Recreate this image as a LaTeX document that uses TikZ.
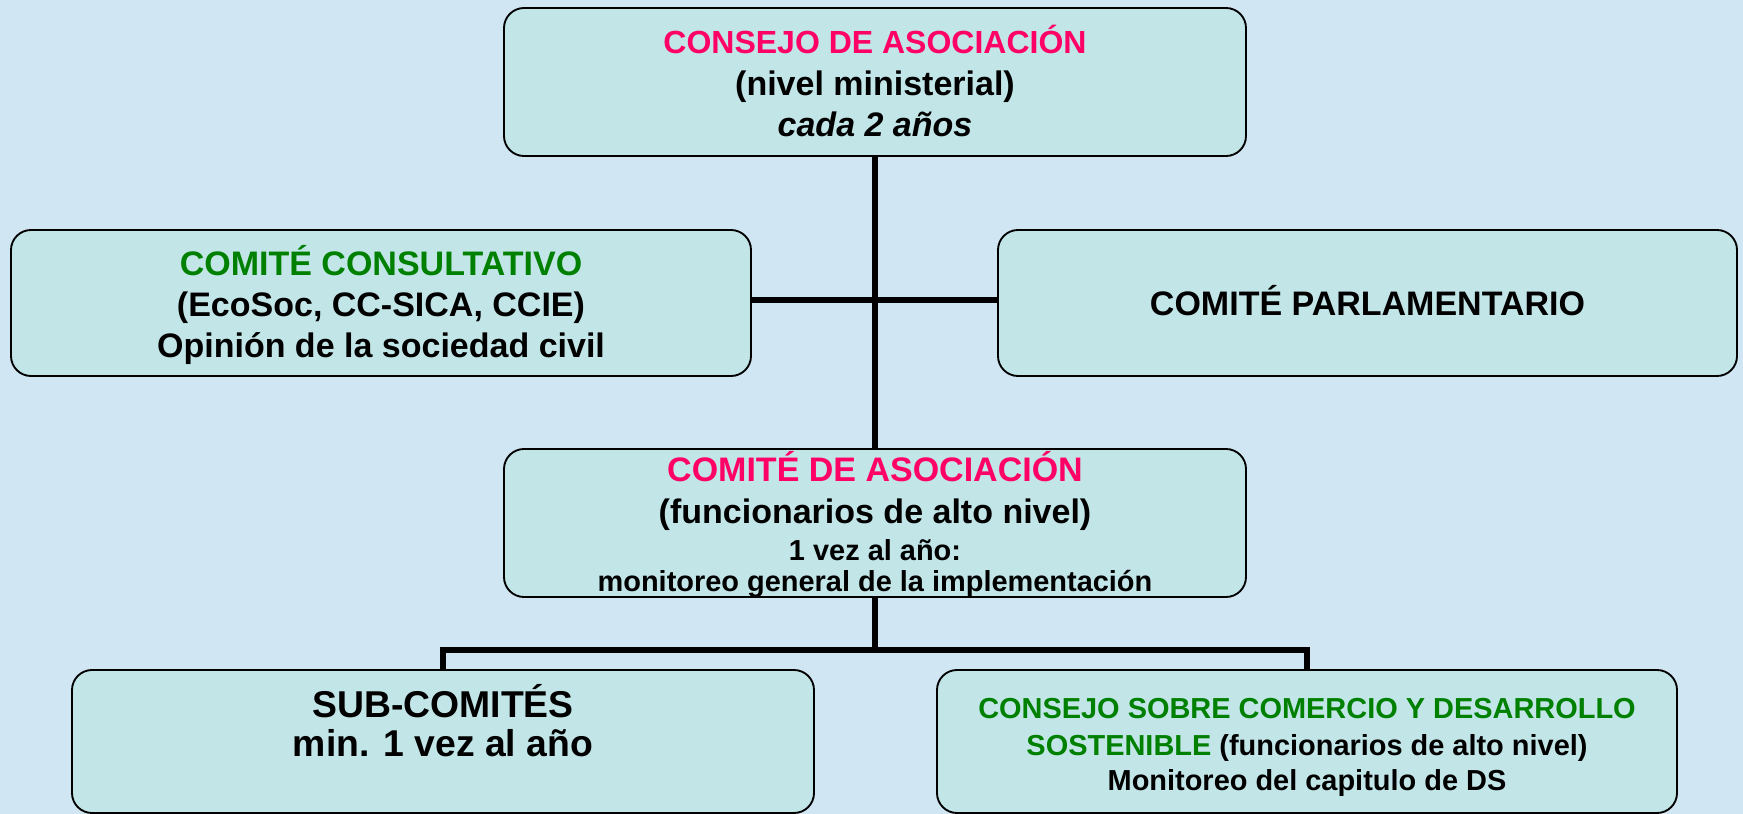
\documentclass[tikz,border=0pt]{standalone}
\usepackage{fontspec}
\setmainfont{Liberation Sans}
\definecolor{bgblue}{RGB}{208,230,243}
\definecolor{boxfill}{RGB}{194,229,232}
\definecolor{pinkt}{RGB}{255,0,102}
\definecolor{greent}{RGB}{0,128,0}
\begin{document}
\begin{tikzpicture}[x=0.75pt,y=-0.75pt,
  box/.style={draw=black, line width=1.4pt, fill=boxfill, rounded corners=15pt, inner sep=0pt},
  conn/.style={line width=4.5pt, draw=black},
  txt/.style={anchor=base, inner sep=0pt},
  fmain/.style={font=\bfseries\fontsize{25.5pt}{30pt}\selectfont},
  ftop/.style={font=\bfseries\fontsize{24pt}{28pt}\selectfont},
  fsmall/.style={font=\bfseries\fontsize{21.7pt}{26pt}\selectfont},
  fbig/.style={font=\bfseries\fontsize{28pt}{33pt}\selectfont}]
\fill[bgblue] (0,0) rectangle (1743,814);
\useasboundingbox (0,0) rectangle (1743,814);

% boxes
\node[box, minimum width=556.5pt, minimum height=111pt] (top) at (875,82) {};
\node[box, minimum width=555pt, minimum height=109.5pt] (left) at (381,303) {};
\node[box, minimum width=554.25pt, minimum height=109.5pt] (right) at (1367.5,303) {};
\node[box, minimum width=556.5pt, minimum height=111pt] (mid) at (875,523) {};
\node[box, minimum width=556.5pt, minimum height=107.25pt] (bl) at (443,741.5) {};
\node[box, minimum width=555pt, minimum height=107.25pt] (br) at (1307,741.5) {};

% connectors
\draw[conn] (top.south) -- (mid.north);
\draw[conn] ([yshift=2.25pt]left.east) -- ([yshift=2.25pt]right.west);
\draw[conn] (mid.south) -- ++(0,52) coordinate (j);
\draw[conn] (bl.north) -- (bl.north |- j) -- (br.north |- j) -- (br.north);

% texts: top box
\node[txt, ftop, text=pinkt] (t1) at (875,53) {CONSEJO DE ASOCIACIÓN};
\node[txt, fmain] (t2) at (875,95) {(nivel ministerial)};
\node[txt, fmain, font=\bfseries\itshape\fontsize{25.5pt}{30pt}\selectfont] (t3) at (875,136) {cada 2 años};

% left box
\node[txt, fmain, text=greent] (l1) at (381,275) {COMITÉ CONSULTATIVO};
\node[txt, fmain] (l2) at (381,316) {(EcoSoc, CC-SICA, CCIE)};
\node[txt, fmain] (l3) at (381,357) {Opinión de la sociedad civil};

% right box
\node[txt, fmain] (r1) at (1367.5,315) {COMITÉ PARLAMENTARIO};

% middle box
\node[txt, fmain, text=pinkt] (m1) at (875,481) {COMITÉ DE ASOCIACIÓN};
\node[txt, fmain] (m2) at (875,523) {(funcionarios de alto nivel)};
\node[txt, fsmall] (m3) at (875,560) {1 vez al año:};
\node[txt, fsmall] (m4) at (875,591) {monitoreo general de la implementación};

% bottom left
\node[txt, fbig] (b1) at (443,717) {SUB-COMITÉS};
\node[txt, fbig] (b2) at (443,756) {min. 1 vez al año};

% bottom right
\node[txt, fsmall, text=greent] (c1) at (1307,718) {CONSEJO SOBRE COMERCIO Y DESARROLLO};
\node[txt, fsmall] (c2) at (1307,755) {\textcolor{greent}{SOSTENIBLE} (funcionarios de alto nivel)};
\node[txt, fsmall] (c3) at (1307,790) {Monitoreo del capitulo de DS};
\end{tikzpicture}
\end{document}
